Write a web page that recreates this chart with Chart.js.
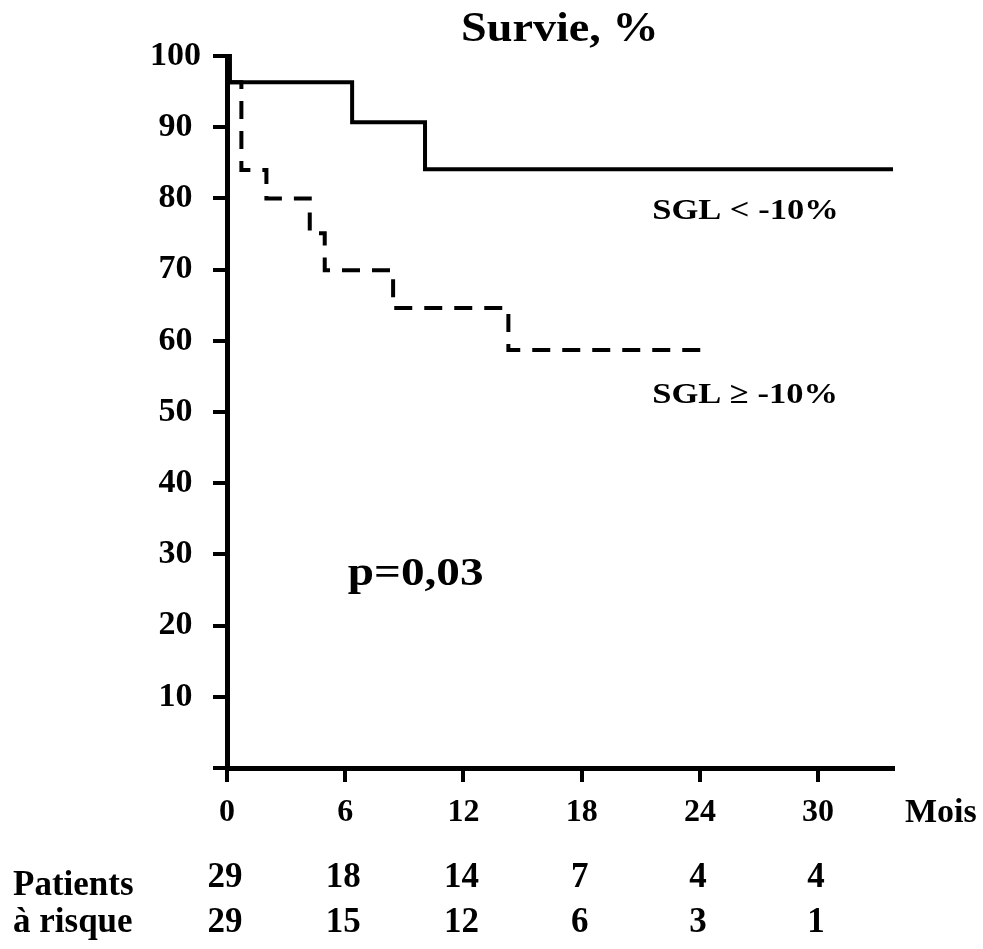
<!DOCTYPE html>
<html>
<head>
<meta charset="utf-8">
<script src="https://cdn.jsdelivr.net/npm/chart.js@4/dist/chart.umd.min.js"></script>
<style>
  body { margin: 0; background: #fff; }
</style>
</head>
<body>
<canvas id="km" width="983" height="949"></canvas>
<script>
// Kaplan-Meier steps (months, % survival after the step)
const lowTimes = [0, 0.15, 6.35, 10.05, 33.8];
const lowSurv = [100, 96.3, 90.7, 84.1, 84.1];
const highTimes = [0.15, 0.73, 2.0, 4.2, 4.96, 8.43, 14.28, 24.36];
const highSurv = [96.3, 84.0, 80.0, 75.1, 69.9, 64.6, 58.7, 58.7];

// axis ticks
const xTickValues = [0, 6, 12, 18, 24, 30];
const yTickValues = [0, 10, 20, 30, 40, 50, 60, 70, 80, 90, 100];

// patients at risk
const riskTimes = [0, 6, 12, 18, 24, 30];
const riskLow = [29, 18, 14, 7, 4, 4];
const riskHigh = [29, 15, 12, 6, 3, 1];

const FONT = '"Liberation Serif", "Times New Roman", serif';

function toPoints(xs, ys) {
  return xs.map((x, i) => ({ x: x, y: ys[i] }));
}

function drawText(ctx, str, x, y, size, sx, align) {
  ctx.save();
  ctx.font = "bold " + size + "px " + FONT;
  ctx.fillStyle = "#000";
  ctx.textBaseline = "alphabetic";
  ctx.textAlign = align || "left";
  ctx.translate(x, y);
  ctx.scale(sx, 1);
  ctx.fillText(str, 0, 0);
  ctx.restore();
}

const whiteBg = {
  id: "whiteBg",
  beforeDraw(chart) {
    const ctx = chart.ctx;
    ctx.save();
    ctx.fillStyle = "#fff";
    ctx.fillRect(0, 0, chart.width, chart.height);
    ctx.restore();
  },
};

const annotations = {
  id: "annotations",
  afterDraw(chart) {
    const ctx = chart.ctx;
    const xs = chart.scales.x;
    const ys = chart.scales.y;

    drawText(ctx, "Survie, %", 461, 41, 42, 1.1);
    drawText(ctx, "SGL < -10%", xs.getPixelForValue(21.58), ys.getPixelForValue(77.07), 30, 1.15);
    drawText(ctx, "SGL \u2265 -10%", xs.getPixelForValue(21.58), ys.getPixelForValue(51.2), 30, 1.15);
    drawText(ctx, "p=0,03", xs.getPixelForValue(6.13), ys.getPixelForValue(25.7), 40, 1.18);
    drawText(ctx, "Mois", 905, 822, 34, 1);

    // at-risk table
    drawText(ctx, "Patients", 13, 895, 35, 1);
    drawText(ctx, "\u00e0 risque", 13, 932, 35, 1);
    riskTimes.forEach((t, i) => {
      const px = xs.getPixelForValue(t) - 2;
      drawText(ctx, String(riskLow[i]), px, 887, 35, 1, "center");
      drawText(ctx, String(riskHigh[i]), px, 932, 35, 1, "center");
    });
  },
};

new Chart(document.getElementById("km"), {
  type: "line",
  data: {
    datasets: [
      {
        label: "SGL < -10%",
        data: toPoints(lowTimes, lowSurv),
        borderColor: "#000",
        borderWidth: 4,
        stepped: true,
        pointRadius: 0,
        fill: false,
        clip: 8,
      },
      {
        label: "SGL >= -10%",
        data: toPoints(highTimes, highSurv),
        borderColor: "#000",
        borderWidth: 4,
        borderDash: [18, 12],
        stepped: true,
        pointRadius: 0,
        fill: false,
        clip: 8,
      },
    ],
  },
  options: {
    responsive: false,
    animation: false,
    devicePixelRatio: 1,
    layout: { padding: { top: 56, right: 90, left: 0, bottom: 0 } },
    plugins: {
      legend: { display: false },
      tooltip: { enabled: false },
    },
    scales: {
      x: {
        type: "linear",
        min: 0,
        max: 33.8,
        afterFit: (s) => { s.height = 181; },
        afterBuildTicks: (s) => { s.ticks = xTickValues.map((v) => ({ value: v })); },
        border: { display: true, color: "#000", width: 5 },
        grid: { drawOnChartArea: false, drawTicks: true, tickLength: 14, color: "#000", lineWidth: 4 },
        ticks: {
          color: "#000",
          padding: 12,
          maxRotation: 0,
          font: { family: FONT, size: 32, weight: "bold" },
        },
      },
      y: {
        min: 0,
        max: 100,
        afterFit: (s) => { s.width = 227; },
        afterBuildTicks: (s) => { s.ticks = yTickValues.map((v) => ({ value: v })); },
        border: { display: true, color: "#000", width: 5 },
        grid: { drawOnChartArea: false, drawTicks: true, tickLength: 14, color: "#000", lineWidth: 4 },
        ticks: {
          color: "#000",
          padding: 12,
          crossAlign: "center",
          font: { family: FONT, size: 34, weight: "bold" },
          callback: (v) => (v === 0 ? "" : v),
        },
      },
    },
  },
  plugins: [whiteBg, annotations],
});
</script>
</body>
</html>
